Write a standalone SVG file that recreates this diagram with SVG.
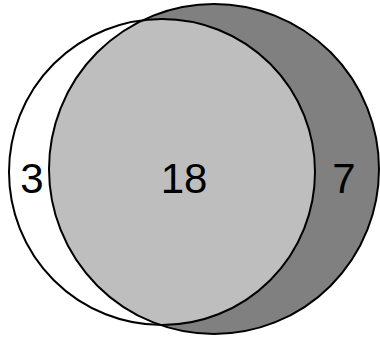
<svg xmlns="http://www.w3.org/2000/svg" width="380" height="339" viewBox="0 0 380 339">
<style>
.edge{fill:none;stroke:#000;stroke-width:2}
.lbl{font-family:"Liberation Sans",Arial,sans-serif;font-size:42px;fill:#000;text-anchor:middle}
</style>
<defs>
<clipPath id="clipB"><circle cx="214" cy="169" r="165"/></clipPath>
</defs>
<rect width="380" height="339" fill="#fff"/>
<g id="setB"><circle cx="214" cy="169" r="165" fill="#808080"/></g>
<g id="setA"><circle cx="162" cy="172" r="153" fill="#fff"/></g>
<g id="overlap"><circle cx="162" cy="172" r="153" fill="#bebebe" clip-path="url(#clipB)"/></g>
<g id="outlines">
<circle class="edge" cx="214" cy="169" r="165"/>
<circle class="edge" cx="162" cy="172" r="153"/>
</g>
<g id="labels">
<text class="lbl" x="32" y="193">3</text>
<text class="lbl" x="184" y="193">18</text>
<text class="lbl" x="344" y="193">7</text>
</g>
</svg>
